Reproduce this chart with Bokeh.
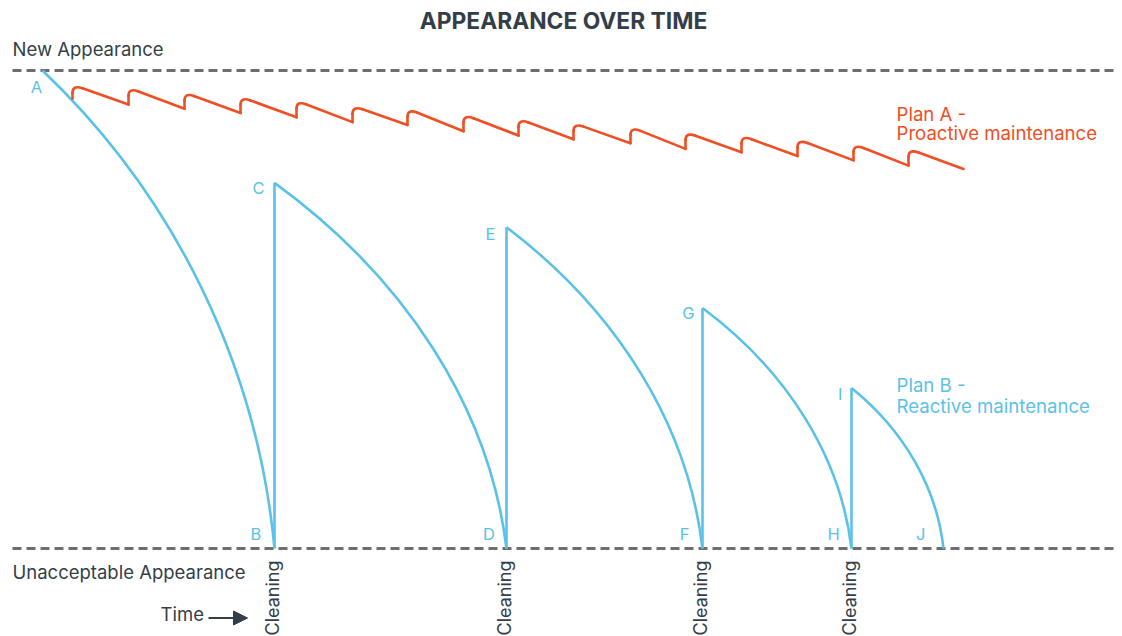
import numpy as np
from bokeh.plotting import figure
from bokeh.models import Range1d, Arrow, NormalHead
from bokeh.core.properties import value
from bokeh.embed import file_html
from bokeh.resources import INLINE

# ---------------- data ----------------
title_text = "APPEARANCE OVER TIME"
level_values = [100, 0]                       # New / Unacceptable appearance
level_labels = ["New Appearance", "Unacceptable Appearance"]

# Plan B - reactive maintenance (decay from each peak to the unacceptable level)
planB_top_labels = ["A", "C", "E", "G", "I"]
planB_bottom_labels = ["B", "D", "F", "H", "J"]
planB_start_time = [0, 232, 464, 660, 809]
planB_start_value = [100, 76.5, 67.2, 50.3, 33.6]
planB_end_time = [232, 464, 660, 809, 901]
cleaning_times = [232, 464, 660, 809]
cleaning_label = "Cleaning"

# Plan A - proactive maintenance (frequent cleanings)
planA_clean_time = [30, 86, 142, 198, 254, 310, 365, 421, 476, 531, 588, 643, 699, 755, 811, 866]
planA_before = [94.1, 92.9, 92.0, 91.1, 90.2, 89.2, 88.6, 87.3, 86.4, 85.6, 84.8, 83.6, 82.9, 82.1, 81.2, 80.1]
planA_after = [97.0, 96.4, 95.4, 94.5, 93.7, 92.6, 92.0, 90.8, 89.9, 89.0, 88.2, 87.1, 86.4, 85.6, 84.6, 83.6]
planA_end_time = 921
planA_end_value = 79.4

planA_label = ["Plan A -", "Proactive maintenance"]
planB_label = ["Plan B -", "Reactive maintenance"]
time_label = "Time"

# ---------------- styling ----------------
DARK = "#333e48"
BLUE = "#5bc2e7"
ORANGE = "#f04e23"
GRAY = "#6d6e70"
FONT = value("Inter")

W, H = 1122, 636


def sx(px):  # page x (px) -> time units
    return px - 42


def sy(py):  # page y (px) -> appearance units
    return (548 - py) / 4.78


p = figure(width=W, height=H, output_backend="svg", toolbar_location=None,
           x_range=Range1d(sx(0), sx(W)), y_range=Range1d(sy(H), sy(0)),
           x_axis_location=None, y_axis_location=None, min_border=0,
           outline_line_color=None, background_fill_color="white")
p.grid.visible = False

# reference levels (dashed)
p.segment(x0=[sx(12)] * 2, y0=level_values, x1=[sx(1118)] * 2, y1=level_values,
          line_color=GRAY, line_width=3, line_dash="9 5")

# ---- Plan B ----
t0 = np.array(planB_start_time, float)
a0 = np.array(planB_start_value, float)
t1 = np.array(planB_end_time, float)
dt = t1 - t0
p.bezier(x0=t0, y0=a0, x1=t1, y1=np.zeros_like(a0),
         cx0=t0 + 0.57 * dt, cy0=a0 * (1 - 0.263),
         cx1=t1 - 0.073 * dt, cy1=0.381 * a0,
         line_color=BLUE, line_width=2.6)
p.segment(x0=cleaning_times, y0=[0] * len(cleaning_times), x1=cleaning_times,
          y1=planB_start_value[1:], line_color=BLUE, line_width=2.6)

# ---- Plan A ----
ct = np.array(planA_clean_time, float)
bf = np.array(planA_before, float)
af = np.array(planA_after, float)
nt = np.append(ct[1:], planA_end_time)
nv = np.append(bf[1:], planA_end_value)
r_a = 8 / 4.78
r_t = 10.0
frac = r_t / (nt - ct)
p0y = af - r_a
p2x = ct + r_t
p2y = af + frac * (nv - af)
p.segment(x0=ct, y0=bf, x1=ct, y1=p0y, line_color=ORANGE, line_width=2.6, line_cap="round")
p.quadratic(x0=ct, y0=p0y, x1=p2x, y1=p2y, cx=ct, cy=af, line_color=ORANGE, line_width=2.6,
            line_cap="round")
p.segment(x0=p2x, y0=p2y, x1=nt, y1=nv, line_color=ORANGE, line_width=2.6, line_cap="round")

# ---- texts (baseline "middle" = centre of capitals) ----
p.text(x=[sx(563)], y=[sy(20)], text=[title_text], text_font=FONT, text_font_style="bold",
       text_font_size="22.8px", text_color=DARK, text_align="center", text_baseline="middle")
p.text(x=[sx(12), sx(12)], y=[sy(48), sy(571.7)], text=level_labels, text_font=FONT,
       text_font_size="18.5px", text_color=DARK, text_align="left", text_baseline="middle")
p.text(x=[sx(160)], y=[sy(613.8)], text=[time_label], text_font=FONT,
       text_font_size="18.5px", text_color=DARK, text_align="left", text_baseline="middle")

p.add_layout(Arrow(end=NormalHead(size=14, fill_color=DARK, line_color=DARK, line_width=1),
                   x_start=sx(208), y_start=sy(617.5), x_end=sx(247), y_end=sy(617.5),
                   line_color=DARK, line_width=2))

ct_arr = np.array(cleaning_times, float)
p.text(x=ct_arr - 2.3, y=[sy(560)] * len(cleaning_times), text=[cleaning_label] * len(cleaning_times),
       angle=np.pi / 2, text_font=FONT, text_font_size="18px", text_color=DARK,
       text_align="right", text_baseline="middle")

top_lx = [sx(41.7), sx(264), sx(495), sx(694), sx(842)]
top_ly = [sy(86), sy(187.5), sy(233), sy(312.5), sy(393)]
bot_lx = [sx(260.7), sx(494.3), sx(689), sx(839.3), sx(925)]
bot_ly = [sy(533.5)] * 5
p.text(x=top_lx + bot_lx, y=top_ly + bot_ly, text=planB_top_labels + planB_bottom_labels,
       text_font=FONT, text_font_size="16.5px", text_color=BLUE, text_align="right",
       text_baseline="middle")

p.text(x=[sx(896)] * 2, y=[sy(113), sy(132.7)], text=planA_label, text_font=FONT,
       text_font_size="18.6px", text_color=ORANGE, text_align="left", text_baseline="middle")
p.text(x=[sx(896)] * 2, y=[sy(384.5), sy(405)], text=planB_label, text_font=FONT,
       text_font_size="18.6px", text_color=BLUE, text_align="left", text_baseline="middle")

open("out.html", "w").write(file_html(p, INLINE))
